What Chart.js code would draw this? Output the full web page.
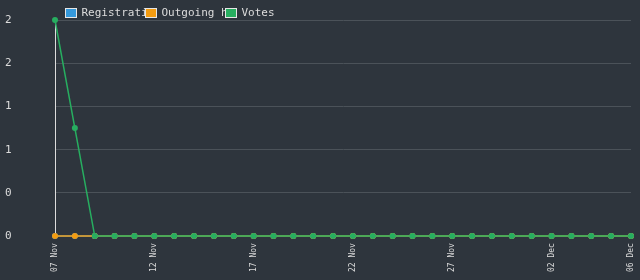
<!DOCTYPE html>
<html><head><meta charset="utf-8">
<script src="https://cdn.jsdelivr.net/npm/chart.js@4"></script>
<style>html,body{margin:0;padding:0;background:#2e353d;} canvas{display:block}</style>
</head><body>
<canvas id="c" width="640" height="280"></canvas>
<script>
const categories = ['07 Nov','08 Nov','09 Nov','10 Nov','11 Nov','12 Nov','13 Nov','14 Nov','15 Nov','16 Nov',
  '17 Nov','18 Nov','19 Nov','20 Nov','21 Nov','22 Nov','23 Nov','24 Nov','25 Nov','26 Nov',
  '27 Nov','28 Nov','29 Nov','30 Nov','01 Dec','02 Dec','03 Dec','04 Dec','05 Dec','06 Dec'];
const registrations = [0,0,0,0,0,0,0,0,0,0,0,0,0,0,0,0,0,0,0,0,0,0,0,0,0,0,0,0,0,0];
const outgoing      = [0,0,0,0,0,0,0,0,0,0,0,0,0,0,0,0,0,0,0,0,0,0,0,0,0,0,0,0,0,0];
const votes         = [2,1,0,0,0,0,0,0,0,0,0,0,0,0,0,0,0,0,0,0,0,0,0,0,0,0,0,0,0,0];
const seriesNames = ['Registrations','Outgoing hits','Votes'];
const legendTexts = ['Registratio','Outgoing hi','Votes'];
const shownXTicks = ['07 Nov','12 Nov','17 Nov','22 Nov','27 Nov','02 Dec','06 Dec'];
const yMin = 0, yMax = 2, yStep = 0.4;

const colors = ['#3498db','#f39c12','#27ae60'];
const mono = "'DejaVu Sans Mono', monospace";
const txt = '#dcdcdc';

// fixed-width legend (items overlap like the original)
const fixedLegend = {
  id: 'fixedLegend',
  afterDraw(chart) {
    const ctx = chart.ctx;
    ctx.save();
    ctx.font = "11px " + mono;
    ctx.textBaseline = 'middle';
    ctx.textAlign = 'left';
    chart.data.datasets.forEach((ds, i) => {
      const x = 65 + 80 * i, y = 8;
      ctx.fillStyle = txt;
      ctx.fillText(legendTexts[i], x + 16.5, y + 5.5);
    });
    chart.data.datasets.forEach((ds, i) => {
      const x = 65 + 80 * i, y = 8;
      ctx.fillStyle = ds.backgroundColor;
      ctx.fillRect(x, y, 12, 10);
      ctx.strokeStyle = '#e6e6e6';
      ctx.lineWidth = 1;
      ctx.strokeRect(x + 0.5, y + 0.5, 11, 9);
    });
    ctx.restore();
  }
};

new Chart(document.getElementById('c'), {
  type: 'line',
  data: {
    labels: categories,
    datasets: [
      {label: seriesNames[0], data: registrations, borderColor: colors[0], backgroundColor: colors[0], order: 2, clip: false},
      {label: seriesNames[1], data: outgoing, borderColor: colors[1], backgroundColor: colors[1], order: 1, clip: false},
      {label: seriesNames[2], data: votes, borderColor: colors[2], backgroundColor: colors[2], order: 0, clip: false}
    ]
  },
  plugins: [fixedLegend],
  options: {
    responsive: false,
    animation: false,
    layout: {padding: {top: 20, left: 5, right: 9, bottom: 1}},
    elements: {
      line: {borderWidth: 1.5, tension: 0, fill: false},
      point: {pointStyle: 'circle', radius: 3, borderWidth: 0, hoverRadius: 3}
    },
    plugins: {
      tooltip: {enabled: false},
      legend: {display: false}
    },
    scales: {
      x: {
        grid: {display: false, drawTicks: false},
        border: {display: false},
        ticks: {
          font: {family: mono, size: 8}, color: txt, autoSkip: false, minRotation: 90, maxRotation: 90, padding: 7,
          callback(v, i) { const l = categories[i]; return shownXTicks.includes(l) ? l : null; }
        },
        afterFit(s) { s.paddingRight = 4; }
      },
      y: {
        min: yMin, max: yMax,
        grid: {color: '#4b5259', drawTicks: false},
        border: {display: true, color: '#dcdcdc', width: 1},
        ticks: {stepSize: yStep, crossAlign: 'far', font: {family: mono, size: 11}, color: txt, padding: 4,
          callback: v => Number(v).toFixed(0)},
        afterFit(s) { s.width = 50; }
      }
    }
  }
});
</script>
</body></html>
